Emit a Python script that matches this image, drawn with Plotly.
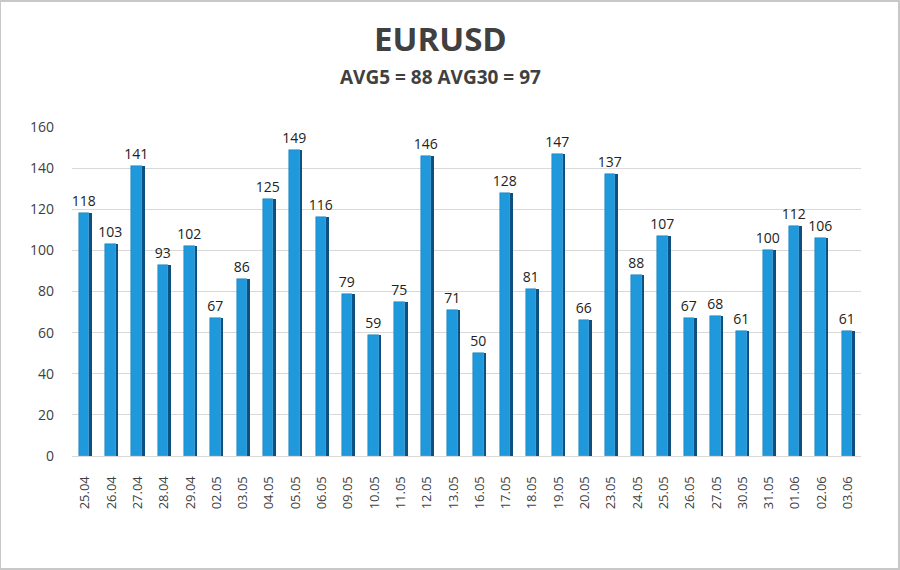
import plotly.graph_objects as go

dates = ["25.04", "26.04", "27.04", "28.04", "29.04", "02.05", "03.05", "04.05", "05.05", "06.05",
         "09.05", "10.05", "11.05", "12.05", "13.05", "16.05", "17.05", "18.05", "19.05", "20.05",
         "23.05", "24.05", "25.05", "26.05", "27.05", "30.05", "31.05", "01.06", "02.06", "03.06"]
values = [118, 103, 141, 93, 102, 67, 86, 125, 149, 116,
          79, 59, 75, 146, 71, 50, 128, 81, 147, 66,
          137, 88, 107, 67, 68, 61, 100, 112, 106, 61]
y_ticks = [0, 20, 40, 60, 80, 100, 120, 140, 160]

fig = go.Figure()
# dark side face (3D look)
fig.add_trace(go.Bar(x=dates, y=values, width=0.1, offset=0.16,
                     marker=dict(color="#0d4f7e", line=dict(width=0)),
                     hoverinfo="skip", showlegend=False))
fig.add_trace(go.Bar(x=dates, y=values, width=0.4, offset=-0.24,
                     marker=dict(color="#1f98dc", line=dict(color="#1478b4", width=0.5)),
                     text=[str(v) for v in values], textposition="outside",
                     constraintext="none",
                     textfont=dict(family="Open Sans", size=14, color="#222222"),
                     cliponaxis=False, showlegend=False))

fig.update_layout(
    width=900, height=570,
    margin=dict(l=72, r=39, t=127, b=114),
    paper_bgcolor="white", plot_bgcolor="white",
    barmode="overlay",
    font=dict(family="Open Sans", color="#404040"),
    annotations=[
        dict(text="<b>EURUSD</b>", xref="paper", yref="paper", x=0.5 - 26/789, y=1+88/329,
             xanchor="center", yanchor="middle", showarrow=False,
             font=dict(family="Open Sans", size=33, color="#404040")),
        dict(text="<b>AVG5 = 88 AVG30 = 97</b>", xref="paper", yref="paper", x=0.5 - 26/789, y=1+50/329,
             xanchor="center", yanchor="middle", showarrow=False,
             font=dict(family="Open Sans", size=19, color="#404040")),
    ],
    xaxis=dict(type="category", tickangle=-90, tickfont=dict(size=13, color="#404040"),
               showgrid=False, showline=True, linecolor="#d9d9d9", ticks="",
               ticklabelstandoff=14),
    yaxis=dict(range=[0, 160], tickvals=y_ticks, tickfont=dict(size=14, color="#404040"),
               showgrid=True, gridcolor="#d9d9d9", zeroline=False, showline=False, ticks="",
               ticklabelstandoff=17),
    shapes=[dict(type="rect", xref="paper", yref="paper", x0=-72/789, x1=1+38/789,
                 y0=-113/329, y1=1+126/329, line=dict(color="#c8c8c8", width=2))],
    bargap=0.0,
)

fig.write_html("out.html")
